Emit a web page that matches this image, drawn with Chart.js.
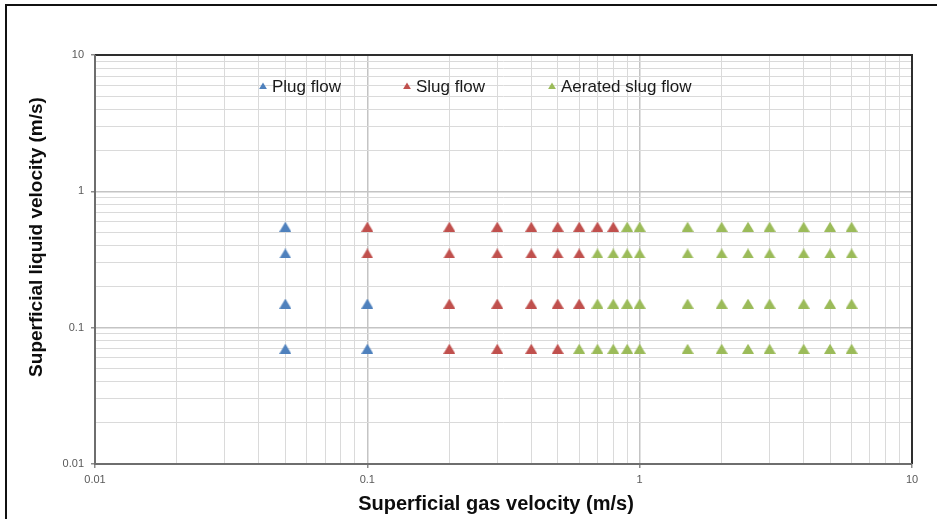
<!DOCTYPE html>
<html>
<head>
<meta charset="utf-8">
<script src="https://cdn.jsdelivr.net/npm/chart.js@4.4.1/dist/chart.umd.min.js"></script>
<style>
  html, body { margin: 0; padding: 0; background: #ffffff; }
  canvas { display: block; }
</style>
</head>
<body>
<canvas id="flowMap" width="937" height="519"></canvas>
<script>
// Flow-regime observations: superficial gas velocity (x) vs superficial liquid velocity (y), m/s
const seriesNames = ['Plug flow', 'Slug flow', 'Aerated slug flow'];
const seriesColors = ['#4F81BD', '#C0504D', '#9BBB59'];

const plugGas    = [0.05, 0.05, 0.05, 0.05, 0.1, 0.1];
const plugLiquid = [0.55, 0.35, 0.15, 0.07, 0.15, 0.07];

const slugGas    = [0.1, 0.1,
                    0.2, 0.2, 0.2, 0.2,
                    0.3, 0.3, 0.3, 0.3,
                    0.4, 0.4, 0.4, 0.4,
                    0.5, 0.5, 0.5, 0.5,
                    0.6, 0.6, 0.6,
                    0.7, 0.8];
const slugLiquid = [0.55, 0.35,
                    0.55, 0.35, 0.15, 0.07,
                    0.55, 0.35, 0.15, 0.07,
                    0.55, 0.35, 0.15, 0.07,
                    0.55, 0.35, 0.15, 0.07,
                    0.55, 0.35, 0.15,
                    0.55, 0.55];

const aeratedGas    = [0.6,
                       0.7, 0.7, 0.7,
                       0.8, 0.8, 0.8,
                       0.9, 0.9, 0.9, 0.9,
                       1.0, 1.0, 1.0, 1.0,
                       1.5, 1.5, 1.5, 1.5,
                       2.0, 2.0, 2.0, 2.0,
                       2.5, 2.5, 2.5, 2.5,
                       3.0, 3.0, 3.0, 3.0,
                       4.0, 4.0, 4.0, 4.0,
                       5.0, 5.0, 5.0, 5.0,
                       6.0, 6.0, 6.0, 6.0];
const aeratedLiquid = [0.07,
                       0.35, 0.15, 0.07,
                       0.35, 0.15, 0.07,
                       0.55, 0.35, 0.15, 0.07,
                       0.55, 0.35, 0.15, 0.07,
                       0.55, 0.35, 0.15, 0.07,
                       0.55, 0.35, 0.15, 0.07,
                       0.55, 0.35, 0.15, 0.07,
                       0.55, 0.35, 0.15, 0.07,
                       0.55, 0.35, 0.15, 0.07,
                       0.55, 0.35, 0.15, 0.07,
                       0.55, 0.35, 0.15, 0.07];

// Axis decades (labelled ticks) and the minor steps inside each decade (gridlines)
const decadeTicks = [0.01, 0.1, 1, 10];
const minorSteps = [1, 2, 3, 4, 5, 6, 7, 8, 9];

const xTitle = 'Superficial gas velocity (m/s)';
const yTitle = 'Superficial liquid velocity (m/s)';

// ---- helpers ----
const gridValues = [];
for (let d = 0; d < decadeTicks.length - 1; d++) {
  for (const s of minorSteps) gridValues.push(parseFloat((s * decadeTicks[d]).toPrecision(6)));
}
gridValues.push(decadeTicks[decadeTicks.length - 1]);

const isDecade = v => decadeTicks.some(d => Math.abs(d - v) < d * 1e-6);

const toPoints = (xs, ys) => xs.map((x, i) => ({ x: x, y: ys[i] }));

const seriesData = [
  toPoints(plugGas, plugLiquid),
  toPoints(slugGas, slugLiquid),
  toPoints(aeratedGas, aeratedLiquid)
];

// Triangle marker whose bounding box is centred on the data point
function triangleMarker(color, w, h) {
  const c = document.createElement('canvas');
  c.width = w; c.height = h;
  const g = c.getContext('2d');
  g.fillStyle = color;
  g.beginPath();
  g.moveTo(w / 2, 0);
  g.lineTo(w, h);
  g.lineTo(0, h);
  g.closePath();
  g.fill();
  return c;
}

const tickFont = { family: '"Liberation Sans", Arial, sans-serif', size: 11 };

function logAxis(position) {
  return {
    type: 'logarithmic',
    position: position,
    min: decadeTicks[0],
    max: decadeTicks[decadeTicks.length - 1],
    afterBuildTicks: scale => { scale.ticks = gridValues.map(v => ({ value: v, major: isDecade(v) })); },
    afterFit: scale => {
      if (position === 'left') scale.width = 95;
      else scale.height = 55;
    },
    border: { display: false },
    grid: {
      color: ctx => (ctx.tick && isDecade(ctx.tick.value)) ? '#c4c4c4' : '#dadada',
      lineWidth: ctx => (ctx.tick && isDecade(ctx.tick.value)) ? 1.5 : 1,
      tickLength: 4,
      tickColor: ctx => (ctx.tick && isDecade(ctx.tick.value)) ? '#8c8c8c' : 'rgba(0,0,0,0)',
      drawTicks: true
    },
    ticks: {
      autoSkip: false,
      maxRotation: 0,
      minRotation: 0,
      padding: position === 'left' ? 7 : 5,
      color: '#595959',
      font: tickFont,
      callback: v => isDecade(v) ? String(v) : ''
    }
  };
}

// Page frame, plot-area outline, axis titles and in-plot legend
const decorations = {
  id: 'decorations',
  beforeDraw(chart) {
    const ctx = chart.ctx;
    ctx.save();
    ctx.fillStyle = '#ffffff';
    ctx.fillRect(0, 0, chart.width, chart.height);
    ctx.restore();
  },
  afterDraw(chart) {
    const ctx = chart.ctx;
    const a = chart.chartArea;
    ctx.save();

    // plot-area outline
    ctx.lineWidth = 2;
    ctx.strokeStyle = '#2e2e2e';
    ctx.beginPath();
    ctx.moveTo(a.left, a.top); ctx.lineTo(a.right, a.top); ctx.lineTo(a.right, a.bottom);
    ctx.stroke();
    ctx.strokeStyle = '#6e6e6e';
    ctx.beginPath();
    ctx.moveTo(a.right, a.bottom); ctx.lineTo(a.left, a.bottom); ctx.lineTo(a.left, a.top);
    ctx.stroke();

    // outer frame
    ctx.fillStyle = '#111111';
    ctx.fillRect(5, 4, 2, chart.height - 4);
    ctx.fillRect(5, 4, chart.width - 5, 2);

    // axis titles
    ctx.fillStyle = '#0d0d0d';
    ctx.textAlign = 'center';
    ctx.textBaseline = 'middle';
    ctx.font = 'bold 20px "Liberation Sans", Arial, sans-serif';
    ctx.fillText(xTitle, 496, 504);
    ctx.save();
    ctx.translate(37, 237);
    ctx.rotate(-Math.PI / 2);
    ctx.font = 'bold 19px "Liberation Sans", Arial, sans-serif';
    ctx.fillText(yTitle, 0, 0);
    ctx.restore();

    // legend
    const markerX = [263, 407, 552];
    const legendY = 86;
    ctx.font = '17px "Liberation Sans", Arial, sans-serif';
    ctx.textAlign = 'left';
    ctx.textBaseline = 'middle';
    chart.data.datasets.forEach((ds, i) => {
      const cx = markerX[i];
      ctx.fillStyle = ds.backgroundColor;
      ctx.beginPath();
      ctx.moveTo(cx, legendY - 3.6);
      ctx.lineTo(cx + 3.9, legendY + 3);
      ctx.lineTo(cx - 3.9, legendY + 3);
      ctx.closePath();
      ctx.fill();
      ctx.fillStyle = '#1a1a1a';
      ctx.fillText(ds.label, cx + 9, legendY + 1);
    });
    ctx.restore();
  }
};

new Chart(document.getElementById('flowMap'), {
  type: 'scatter',
  data: {
    datasets: seriesNames.map((name, i) => ({
      label: name,
      data: seriesData[i],
      backgroundColor: seriesColors[i],
      borderColor: seriesColors[i],
      borderWidth: 0,
      pointStyle: triangleMarker(seriesColors[i], 12, 10),
      pointRadius: 6,
      pointHoverRadius: 6,
      showLine: false
    }))
  },
  options: {
    responsive: false,
    animation: false,
    devicePixelRatio: 1,
    layout: { padding: { top: 55, right: 25, left: 0, bottom: 0 } },
    plugins: {
      legend: { display: false },
      tooltip: { enabled: false },
      title: { display: false }
    },
    scales: {
      x: logAxis('bottom'),
      y: logAxis('left')
    }
  },
  plugins: [decorations]
});
</script>
</body>
</html>
